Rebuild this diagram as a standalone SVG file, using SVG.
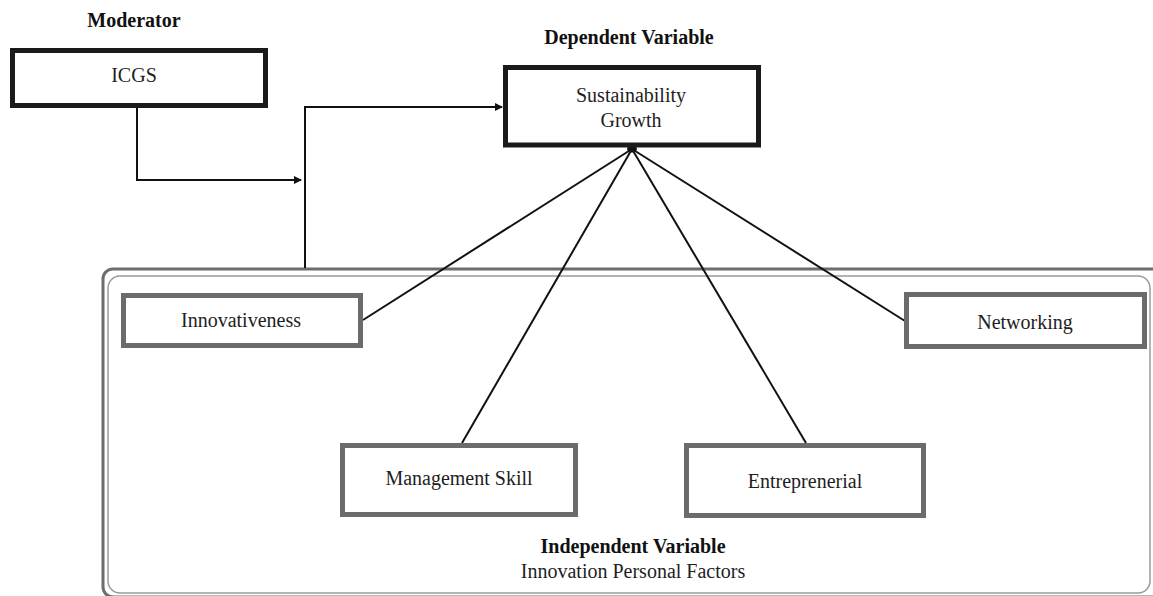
<svg xmlns="http://www.w3.org/2000/svg" width="1153" height="596" viewBox="0 0 1153 596">
<style>
.t{font-family:"Liberation Serif","Times New Roman",serif;font-size:20px;fill:#1e1e1e;text-anchor:middle}
.b{font-weight:bold;fill:#111}
.dk{fill:#fff;stroke:#1a1a1a;stroke-width:5}
.gy{fill:#fff;stroke:#6b6b6b;stroke-width:5}
.ln{fill:none;stroke:#111;stroke-width:2}
</style>
<defs>
<marker id="ar" markerWidth="8" markerHeight="8" refX="7" refY="4" orient="auto" markerUnits="userSpaceOnUse">
<path d="M0,0 L8,4 L0,8 Z" fill="#111"/>
</marker>
</defs>
<rect width="1153" height="596" fill="#fff"/>
<g id="container">
<rect x="103" y="269" width="1100" height="328" rx="10" fill="none" stroke="#6d6d6d" stroke-width="3"/>
<rect x="108" y="276" width="1042" height="317" rx="12" fill="none" stroke="#9a9a9a" stroke-width="1.5"/>
<text class="t b" x="633" y="553">Independent Variable</text>
<text class="t" x="633" y="578">Innovation Personal Factors</text>
</g>
<text class="t b" x="134" y="27">Moderator</text>
<text class="t b" x="629" y="44">Dependent Variable</text>
<g id="connectors">
<polyline class="ln" points="137,108 137,180 301,180" marker-end="url(#ar)"/>
<polyline class="ln" points="305,268 305,107 502,107" marker-end="url(#ar)"/>
<line class="ln" x1="632" y1="149" x2="363" y2="320"/>
<line class="ln" x1="632" y1="149" x2="462" y2="443"/>
<line class="ln" x1="632" y1="149" x2="806" y2="443"/>
<line class="ln" x1="632" y1="149" x2="905" y2="321"/>
<ellipse cx="632" cy="149" rx="5" ry="3.5" fill="#111"/>
</g>
<g id="icgs">
<rect class="dk" x="12.5" y="50.5" width="253" height="55"/>
<text class="t" x="134" y="82">ICGS</text>
</g>
<g id="sustainability">
<rect class="dk" x="505.5" y="67.5" width="253" height="77.5"/>
<text class="t" x="631" y="102">Sustainability</text>
<text class="t" x="631" y="127">Growth</text>
</g>
<g id="innovativeness">
<rect class="gy" x="123.5" y="295.5" width="237" height="50"/>
<text class="t" x="241" y="327">Innovativeness</text>
</g>
<g id="networking">
<rect class="gy" x="906.5" y="294.5" width="238" height="52"/>
<text class="t" x="1025" y="329">Networking</text>
</g>
<g id="management">
<rect class="gy" x="342.5" y="445.5" width="233" height="69"/>
<text class="t" x="459" y="485">Management Skill</text>
</g>
<g id="entreprenerial">
<rect class="gy" x="686.5" y="445.5" width="237" height="70"/>
<text class="t" x="805" y="488">Entreprenerial</text>
</g>
</svg>
